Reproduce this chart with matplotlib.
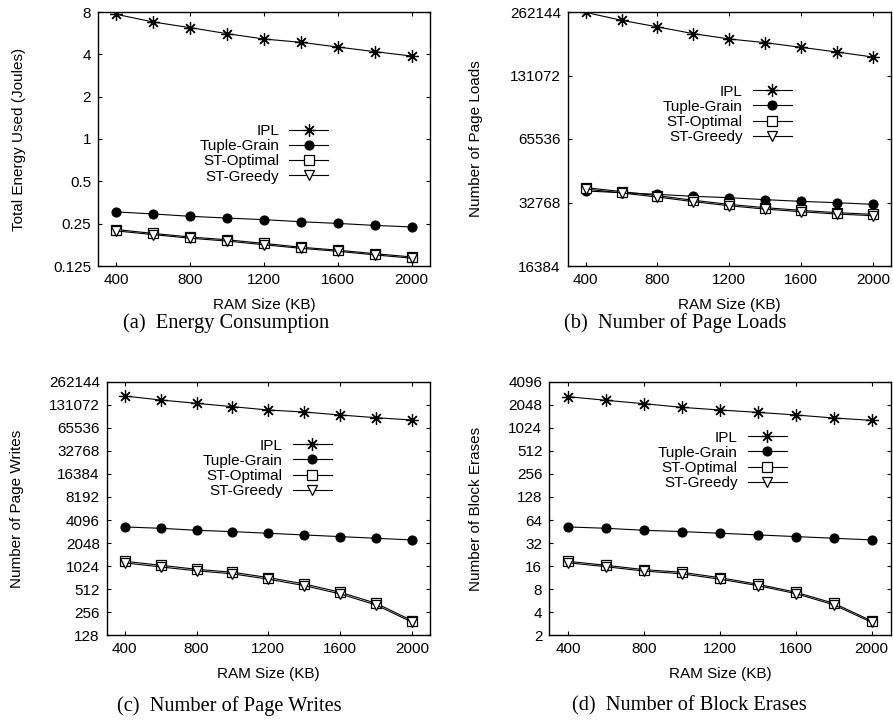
import matplotlib
matplotlib.use("Agg")
import matplotlib.pyplot as plt
from matplotlib.ticker import FixedLocator, FixedFormatter, NullLocator

# ---------------- data ----------------
ram = [400, 600, 800, 1000, 1200, 1400, 1600, 1800, 2000]
series_names = ["IPL", "Tuple-Grain", "ST-Optimal", "ST-Greedy"]

energy_ipl = [7.70, 6.79, 6.19, 5.61, 5.14, 4.87, 4.51, 4.18, 3.89]
energy_tuple = [0.303, 0.293, 0.282, 0.274, 0.267, 0.258, 0.251, 0.243, 0.237]
energy_opt = [0.227, 0.213, 0.201, 0.192, 0.181, 0.170, 0.162, 0.153, 0.145]
energy_greedy = [0.222, 0.209, 0.197, 0.188, 0.177, 0.167, 0.159, 0.150, 0.142]

loads_ipl = [261000, 239500, 222800, 207000, 195300, 187600, 178300, 169400, 160400]
loads_tuple = [37150, 36480, 35830, 35050, 34540, 33800, 33180, 32700, 32110]
loads_opt = [38540, 36900, 35320, 33570, 32110, 30970, 30080, 29330, 28800]
loads_greedy = [37960, 36350, 34790, 33070, 31630, 30500, 29630, 28890, 28370]

writes_ipl = [170500, 151200, 136900, 123700, 111900, 105300, 96300, 88800, 82800]
writes_tuple = [3325, 3196, 3008, 2890, 2750, 2615, 2487, 2366, 2250]
writes_opt = [1185, 1051, 932, 852, 726, 600, 467, 335, 199]
writes_greedy = [1130, 1000, 890, 812, 692, 570, 444, 318, 190]

erases_ipl = [2610, 2338, 2115, 1894, 1748, 1630, 1505, 1375, 1282]
erases_tuple = [52.0, 49.9, 47.0, 45.2, 43.0, 40.9, 38.9, 37.0, 35.2]
erases_opt = [18.5, 16.4, 14.4, 13.3, 11.3, 9.28, 7.30, 5.24, 3.08]
erases_greedy = [17.7, 15.7, 13.8, 12.7, 10.8, 8.9, 7.0, 5.0, 2.95]

x_ticks = [400, 800, 1200, 1600, 2000]

energy_yticks = [0.125, 0.25, 0.5, 1, 2, 4, 8]
energy_ylabels = ["0.125", "0.25", "0.5", "1", "2", "4", "8"]
loads_yticks = [16384, 32768, 65536, 131072, 262144]
writes_yticks = [128, 256, 512, 1024, 2048, 4096, 8192, 16384, 32768, 65536, 131072, 262144]
erases_yticks = [2, 4, 8, 16, 32, 64, 128, 256, 512, 1024, 2048, 4096]

captions = ["(a)  Energy Consumption", "(b)  Number of Page Loads",
            "(c)  Number of Page Writes", "(d)  Number of Block Erases"]
ylabels = ["Total Energy Used (Joules)", "Number of Page Loads",
           "Number of Page Writes", "Number of Block Erases"]

# ---------------- style ----------------
W, H = 893, 722
plt.rcParams['font.family'] = ['Liberation Sans', 'DejaVu Sans']
fig = plt.figure(figsize=(W / 100, H / 100), dpi=100)

def px_rect(l, t, r, b):
    return [l / W, 1 - b / H, (r - l) / W, (b - t) / H]

panels = [
    dict(rect=px_rect(98, 12, 430, 266),
         data=[energy_ipl, energy_tuple, energy_opt, energy_greedy],
         yticks=energy_yticks, ylabs=energy_ylabels,
         ylabel_x=-0.218, leg=(328, 124), cap=(226, 323)),
    dict(rect=px_rect(567.7, 12, 890.7, 266),
         data=[loads_ipl, loads_tuple, loads_opt, loads_greedy],
         yticks=loads_yticks, ylabs=[str(v) for v in loads_yticks],
         ylabel_x=-0.261, leg=(791.7, 84.5), cap=(675, 323)),
    dict(rect=px_rect(106.7, 381.7, 430, 635.3),
         data=[writes_ipl, writes_tuple, writes_opt, writes_greedy],
         yticks=writes_yticks, ylabs=[str(v) for v in writes_yticks],
         ylabel_x=-0.256, leg=(331.7, 438.5), cap=(229, 706)),
    dict(rect=px_rect(549.3, 381.7, 890.7, 635.3),
         data=[erases_ipl, erases_tuple, erases_opt, erases_greedy],
         yticks=erases_yticks, ylabs=[str(v) for v in erases_yticks],
         ylabel_x=-0.193, leg=(786.7, 430.5), cap=(689, 706)),
]

marker_styles = [
    dict(marker=(8, 2, 0), markersize=9, markerfacecolor='black', markeredgewidth=0.9),
    dict(marker='o', markersize=6.5, markerfacecolor='black', markeredgewidth=0.8),
    dict(marker='s', markersize=6.5, markerfacecolor='white', markeredgewidth=0.9),
    dict(marker='v', markersize=6.5, markerfacecolor='white', markeredgewidth=0.9),
]

for i, p in enumerate(panels):
    ax = fig.add_axes(p['rect'])
    for name, ys, ms in zip(series_names, p['data'], marker_styles):
        ax.plot(ram, ys, color='black', linewidth=0.8, markeredgecolor='black',
                label=name, **ms)
    ax.set_yscale('log', base=2)
    ax.set_xlim(300, 2100)
    ax.set_ylim(p['yticks'][0], p['yticks'][-1])
    ax.xaxis.set_major_locator(FixedLocator(x_ticks))
    ax.xaxis.set_major_formatter(FixedFormatter([str(v) for v in x_ticks]))
    ax.yaxis.set_major_locator(FixedLocator(p['yticks']))
    ax.yaxis.set_major_formatter(FixedFormatter(p['ylabs']))
    ax.yaxis.set_minor_locator(NullLocator())
    ax.xaxis.set_minor_locator(NullLocator())
    ax.tick_params(direction='in', length=3.2, width=0.8, labelsize=11,
                   top=True, right=True, pad=5)
    for s in ax.spines.values():
        s.set_linewidth(1.0)
    ax.set_xlabel("RAM Size (KB)", fontsize=11)
    ax.xaxis.set_label_coords(0.5, -0.126)
    ax.set_ylabel(ylabels[i], fontsize=11)
    ax.yaxis.set_label_coords(p['ylabel_x'], 0.5)
    lx, ly = p['leg']
    ax.legend(loc='upper right', bbox_to_anchor=(lx / W, 1 - ly / H),
              bbox_transform=fig.transFigure, frameon=False, markerfirst=False,
              fontsize=11, handlelength=2.55, handletextpad=0.65,
              labelspacing=0.08, borderpad=0, borderaxespad=0, numpoints=1)
    cx, cy = p['cap']
    fig.text(cx / W, 1 - cy / H, captions[i], ha='center', va='center',
             fontsize=14.7, family=['Liberation Serif', 'DejaVu Serif'])

fig.savefig("out.png", dpi=100)
